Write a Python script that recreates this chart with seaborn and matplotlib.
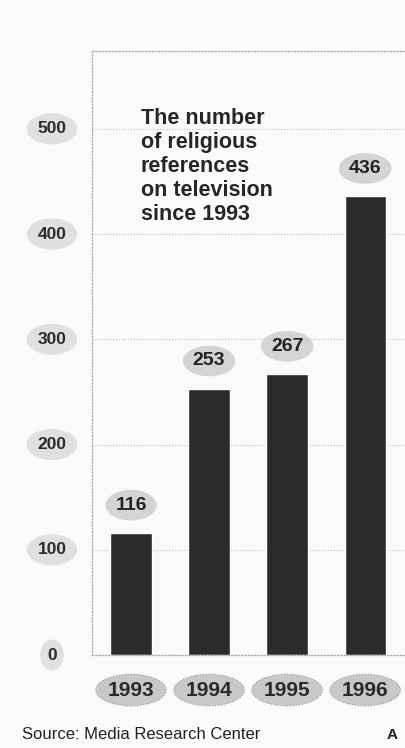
import pandas as pd
import matplotlib.pyplot as plt
import seaborn as sns

# Data
years = ['1993', '1994', '1995', '1996']
references = [116, 253, 267, 436]
y_ticks = [0, 100, 200, 300, 400, 500]

df = pd.DataFrame({'Year': years, 'References': references})

sns.set_style('white')
plt.rcParams['font.family'] = ['Liberation Sans', 'DejaVu Sans']

fig = plt.figure(figsize=(4.05, 7.48), dpi=100, facecolor='#fafafa')
ax = fig.add_axes([92 / 405, 93 / 748, 313 / 405, 604 / 748])
ax.set_facecolor('#fafafa')

sns.barplot(data=df, x='Year', y='References', color='#2b2b2b', width=0.53,
            saturation=1, ax=ax)

ax.set_xlim(-0.5, 3.51)
ax.set_ylim(0, 574)

# faint dotted gridlines
for t in y_ticks[1:]:
    ax.axhline(t, color='#bbbbbb', lw=0.8, ls=':', zorder=0)

for s in ax.spines.values():
    s.set_linestyle(':')
    s.set_color('#aaaaaa')
    s.set_linewidth(0.9)
ax.spines['right'].set_visible(False)

# value labels in a shaded halo
for i, v in enumerate(references):
    ax.annotate(str(v), (i, v), xytext=(0, 20), textcoords='offset points',
                ha='center', va='center', fontsize=14, fontweight='bold',
                color='#222222',
                bbox=dict(boxstyle='ellipse,pad=0.12', fc='#d4d4d4', ec='none'))

# y tick labels inside ellipses
ax.set_yticks(y_ticks)
ax.set_yticklabels([])
ax.tick_params(left=False, bottom=False)
for t in y_ticks:
    ax.text(-0.128, t, str(t), transform=ax.get_yaxis_transform(),
            ha='center', va='center', fontsize=12.5, fontweight='bold',
            color='#2a2a2a', clip_on=False,
            bbox=dict(boxstyle='ellipse,pad=0.2', fc='#e0e0e0', ec='none'))

# year labels inside ellipses
ax.set_xticklabels([])
ax.set_xlabel('')
ax.set_ylabel('')
for i, yr in enumerate(years):
    ax.text(i, -0.058, yr, transform=ax.get_xaxis_transform(),
            ha='center', va='center', fontsize=15, fontweight='bold',
            color='#2a2a2a',
            bbox=dict(boxstyle='ellipse,pad=0.08', fc='#c8c8c8', ec='#999999',
                      lw=0.8, ls=':'))

fig.text(141 / 405, 1 - 108 / 748,
         'The number\nof religious\nreferences\non television\nsince 1993',
         ha='left', va='top', fontsize=15.5, fontweight='bold',
         color='#262626', linespacing=1.18)

fig.text(22 / 405, 1 - 739 / 748, 'Source: Media Research Center',
         ha='left', va='baseline', fontsize=12, color='#222222')
fig.text(398 / 405, 1 - 739 / 748, 'A', ha='right', va='baseline',
         fontsize=11, fontweight='bold', color='#222222')

plt.savefig('out.png', dpi=100, facecolor=fig.get_facecolor())
